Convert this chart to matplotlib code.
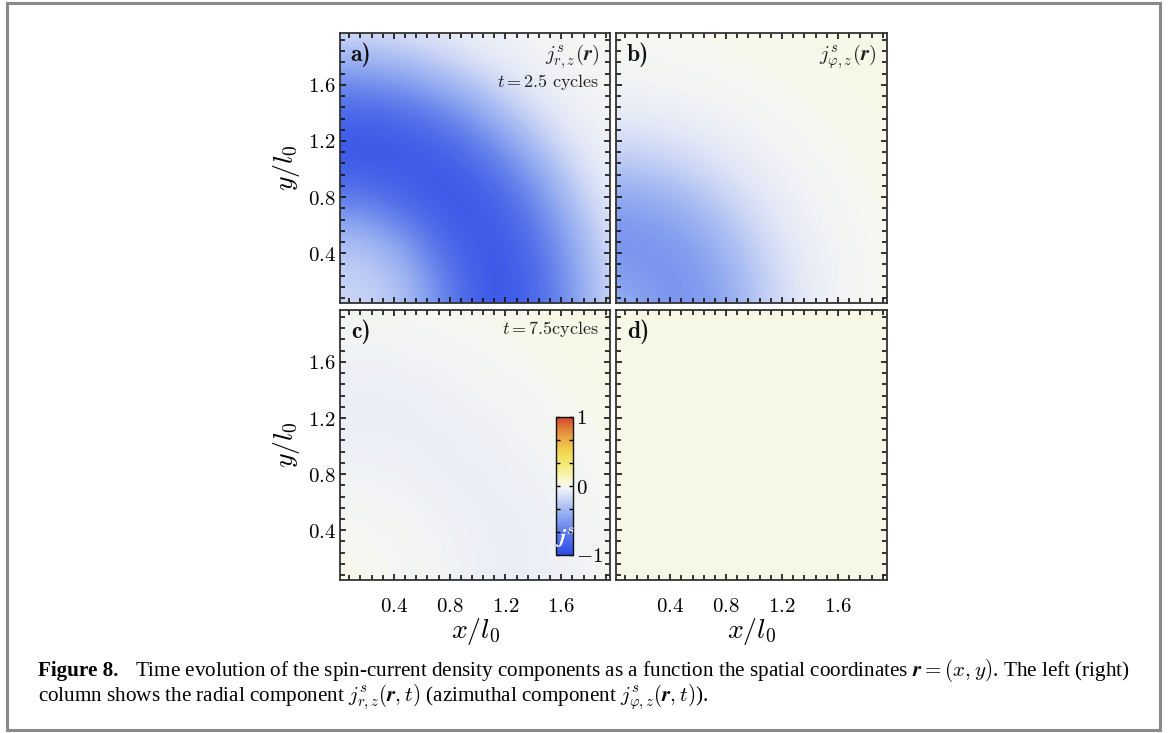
import numpy as np
import matplotlib
matplotlib.use("Agg")
import matplotlib.pyplot as plt
from matplotlib.colors import LinearSegmentedColormap
from matplotlib.ticker import MultipleLocator, FuncFormatter, FixedLocator
from matplotlib.patches import Rectangle

plt.rcParams['mathtext.fontset'] = 'cm'
plt.rcParams['font.family'] = ['DejaVu Serif']

# grid coordinates (x/l0, y/l0) at which the maps are sampled
grid = [0.0, 0.25, 0.5, 0.75, 1.0, 1.25, 1.5, 1.75, 2.0]

# panel a) radial component, t = 2.5 cycles (rows: y, cols: x)
j_r_25 = [
    [-0.18, -0.20, -0.30, -0.60, -0.87, -0.90, -0.72, -0.41, -0.13],
    [-0.20, -0.23, -0.35, -0.66, -0.88, -0.90, -0.70, -0.39, -0.12],
    [-0.30, -0.35, -0.54, -0.80, -0.90, -0.86, -0.63, -0.33, -0.10],
    [-0.60, -0.66, -0.80, -0.89, -0.90, -0.77, -0.51, -0.22, -0.07],
    [-0.87, -0.88, -0.90, -0.90, -0.81, -0.60, -0.35, -0.12, -0.05],
    [-0.90, -0.90, -0.86, -0.77, -0.60, -0.39, -0.17, -0.065, -0.03],
    [-0.72, -0.70, -0.63, -0.51, -0.35, -0.17, -0.075, -0.035, -0.01],
    [-0.41, -0.39, -0.33, -0.22, -0.12, -0.065, -0.035, -0.015, 0.00],
    [-0.13, -0.12, -0.10, -0.07, -0.05, -0.03, -0.01, 0.00, 0.01],
]
# panel b) azimuthal component, t = 2.5 cycles
j_phi_25 = [
    [-0.36, -0.48, -0.55, -0.47, -0.28, -0.13, -0.05, -0.01, 0.01],
    [-0.48, -0.54, -0.54, -0.44, -0.26, -0.12, -0.045, -0.01, 0.01],
    [-0.55, -0.54, -0.49, -0.36, -0.20, -0.09, -0.035, 0.00, 0.01],
    [-0.47, -0.44, -0.36, -0.24, -0.13, -0.06, -0.02, 0.005, 0.01],
    [-0.28, -0.26, -0.20, -0.13, -0.07, -0.035, -0.005, 0.01, 0.015],
    [-0.13, -0.12, -0.09, -0.06, -0.035, -0.01, 0.01, 0.01, 0.015],
    [-0.05, -0.045, -0.035, -0.02, -0.005, 0.01, 0.01, 0.015, 0.02],
    [-0.01, -0.01, 0.00, 0.005, 0.01, 0.01, 0.015, 0.02, 0.02],
    [0.01, 0.01, 0.01, 0.01, 0.015, 0.015, 0.02, 0.02, 0.02],
]
# panel c) radial component, t = 7.5 cycles
j_r_75 = [
    [0.015, 0.01, -0.005, -0.025, -0.05, -0.06, -0.05, -0.03, 0.00],
    [0.01, 0.005, -0.01, -0.03, -0.05, -0.06, -0.05, -0.03, 0.00],
    [-0.005, -0.01, -0.02, -0.04, -0.055, -0.06, -0.045, -0.02, 0.005],
    [-0.025, -0.03, -0.04, -0.055, -0.06, -0.05, -0.035, -0.01, 0.01],
    [-0.05, -0.05, -0.055, -0.06, -0.05, -0.04, -0.02, 0.00, 0.01],
    [-0.06, -0.06, -0.06, -0.05, -0.04, -0.025, -0.005, 0.01, 0.015],
    [-0.05, -0.05, -0.045, -0.035, -0.02, -0.005, 0.01, 0.015, 0.02],
    [-0.03, -0.03, -0.02, -0.01, 0.00, 0.01, 0.015, 0.02, 0.02],
    [0.00, 0.00, 0.005, 0.01, 0.01, 0.015, 0.02, 0.02, 0.02],
]
# panel d) azimuthal component, t = 7.5 cycles
j_phi_75 = [
    [0.02, 0.02, 0.02, 0.02, 0.02, 0.02, 0.02, 0.02, 0.02],
    [0.02, 0.02, 0.02, 0.018, 0.018, 0.018, 0.02, 0.02, 0.02],
    [0.02, 0.02, 0.018, 0.016, 0.016, 0.017, 0.018, 0.02, 0.02],
    [0.02, 0.018, 0.016, 0.015, 0.016, 0.017, 0.018, 0.02, 0.02],
    [0.02, 0.018, 0.016, 0.016, 0.017, 0.018, 0.02, 0.02, 0.02],
    [0.02, 0.018, 0.017, 0.017, 0.018, 0.02, 0.02, 0.02, 0.02],
    [0.02, 0.02, 0.018, 0.018, 0.02, 0.02, 0.02, 0.02, 0.02],
    [0.02, 0.02, 0.02, 0.02, 0.02, 0.02, 0.02, 0.02, 0.02],
    [0.02, 0.02, 0.02, 0.02, 0.02, 0.02, 0.02, 0.02, 0.02],
]

panel_letters = ["a)", "b)", "c)", "d)"]
panel_fields = [j_r_25, j_phi_25, j_r_75, j_phi_75]
x_ticks = [0.4, 0.8, 1.2, 1.6]
y_ticks = [0.4, 0.8, 1.2, 1.6]
cbar_ticks = [-1, 0, 1]

cmap = LinearSegmentedColormap.from_list("temp", [
    (0.000, "#2d4be6"),
    (0.050, "#3c5ae8"),
    (0.125, "#5270ea"),
    (0.200, "#6d89ec"),
    (0.275, "#8da6f0"),
    (0.350, "#adbff3"),
    (0.400, "#c8d3f5"),
    (0.450, "#e2e8f7"),
    (0.475, "#edf0f6"),
    (0.500, "#f6f7f3"),
    (0.510, "#f8f8e8"),
    (0.550, "#f7f5c8"),
    (0.650, "#f5ec7a"),
    (0.750, "#f2d550"),
    (0.850, "#eaa844"),
    (0.925, "#e07a3a"),
    (1.000, "#d3432d"),
])

W, H = 1174, 733
fig = plt.figure(figsize=(W / 100, H / 100), dpi=100)


def rect(l, t, r, b):
    return [l / W, 1 - b / H, (r - l) / W, (b - t) / H]


boxes = [(340, 33, 610, 303), (616, 33, 887, 303),
         (340, 310, 610, 580), (616, 310, 887, 580)]

fmt = FuncFormatter(lambda v, p: r"$%.1f$" % v)
step = grid[1] - grid[0]
ext = (grid[0] - step / 2, grid[-1] + step / 2, grid[0] - step / 2, grid[-1] + step / 2)

axes = []
im = None
for k, (bx, field) in enumerate(zip(boxes, panel_fields)):
    ax = fig.add_axes(rect(*bx))
    im = ax.imshow(np.array(field), origin="lower", extent=ext, cmap=cmap,
                   vmin=-1, vmax=1, interpolation="bicubic", aspect="auto")
    ax.set_xlim(0.013, 1.95)
    ax.set_ylim(0.045, 1.97)
    ax.xaxis.set_major_locator(FixedLocator(x_ticks))
    ax.yaxis.set_major_locator(FixedLocator(y_ticks))
    ax.xaxis.set_minor_locator(MultipleLocator(0.08))
    ax.yaxis.set_minor_locator(MultipleLocator(0.08))
    ax.tick_params(which="both", direction="in", top=True, right=True,
                   color="#111111", width=1.2)
    ax.tick_params(which="major", length=4.5, labelsize=15)
    ax.tick_params(axis="x", which="major", pad=12)
    ax.tick_params(axis="y", which="major", pad=3)
    ax.tick_params(which="minor", length=3.5)
    ax.xaxis.set_major_formatter(fmt)
    ax.yaxis.set_major_formatter(fmt)
    if k in (0, 1):
        ax.tick_params(labelbottom=False)
    if k in (1, 3):
        ax.tick_params(labelleft=False)
    for s in ax.spines.values():
        s.set_color("#333333")
        s.set_linewidth(1.3)
    ax.text(0.04, 0.965, panel_letters[k], transform=ax.transAxes,
            ha="left", va="top", fontsize=17, color="#111111", family="cmb10")
    axes.append(ax)

axes[0].text(0.96, 0.965, r"$j^{s}_{r,z}(\mathbfit{r})$", transform=axes[0].transAxes,
             ha="right", va="top", fontsize=15, color="#222222")
axes[0].text(0.96, 0.855, r"$t = 2.5\ \mathrm{cycles}$", transform=axes[0].transAxes,
             ha="right", va="top", fontsize=13, color="#222222")
axes[1].text(0.96, 0.965, r"$j^{s}_{\varphi,z}(\mathbfit{r})$", transform=axes[1].transAxes,
             ha="right", va="top", fontsize=15, color="#222222")
axes[2].text(0.96, 0.965, r"$t = 7.5\mathrm{cycles}$", transform=axes[2].transAxes,
             ha="right", va="top", fontsize=13, color="#222222")

for ax in (axes[0], axes[2]):
    ax.set_ylabel(r"$y/l_0$", fontsize=20, labelpad=4)
for ax in (axes[2], axes[3]):
    ax.set_xlabel(r"$x/l_0$", fontsize=20, labelpad=0)

# colorbar inset
cax = fig.add_axes(rect(556, 417, 573, 555))
cb = fig.colorbar(im, cax=cax, ticks=cbar_ticks)
cb.outline.set_linewidth(1.0)
cb.outline.set_edgecolor("#111111")
cax.yaxis.set_major_formatter(FuncFormatter(lambda v, p: r"$%d$" % v if v >= 0 else r"$-1$"))
cax.yaxis.set_minor_locator(MultipleLocator(1 / 3))
cax.tick_params(which="both", direction="in", left=True, right=True, length=3,
                width=1.0, labelsize=15, pad=2)
cax.text(0.55, 0.12, r"$\mathbfit{j}^{s}$", transform=cax.transAxes, ha="center",
         va="center", fontsize=16, color="white")

# outer frame and caption
fig.patches.append(Rectangle((6.5 / W, 1 - 730 / H), (1160 - 6.5) / W, (730 - 3) / H,
                             transform=fig.transFigure, fill=False,
                             edgecolor="#8a8a8a", linewidth=2.2))

fig.text(38 / W, 1 - 671 / H, "Figure 8.", ha="left", va="center", fontsize=15.2,
         fontweight="bold", family="Liberation Serif")
fig.text(135 / W, 1 - 671 / H,
         r"Time evolution of the spin-current density components as a function the spatial "
         r"coordinates $\mathbfit{r}=(x,y)$. The left (right)",
         ha="left", va="center", fontsize=15.2, family="Liberation Serif")
fig.text(38 / W, 1 - 697 / H,
         r"column shows the radial component $j^{s}_{r,z}(\mathbfit{r},t)$ "
         r"(azimuthal component $j^{s}_{\varphi,z}(\mathbfit{r},t)$).",
         ha="left", va="center", fontsize=15.2, family="Liberation Serif")

fig.savefig("out.png", dpi=100)
